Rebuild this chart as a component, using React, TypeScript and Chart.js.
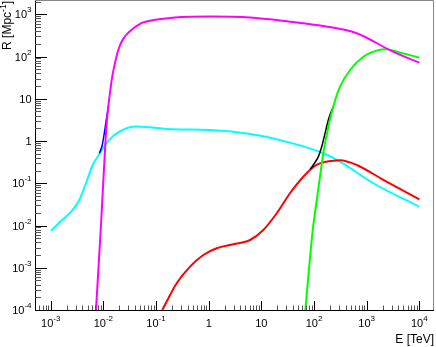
import React, { useEffect, useRef } from 'react';
import Chart from 'chart.js/auto';

// ---- data (E in TeV, R in Mpc^-1) ----
const magentaE = [7.24e-3, 8.9e-3, 1.074e-2, 1.156e-2, 1.44e-2, 1.63e-2, 1.92e-2, 2.31e-2, 2.94e-2, 5.35e-2, 7.7e-2, 0.229, 1.06, 6.1, 35, 150, 647, 3162, 1e4];
const magentaR = [1e-4, 7.8e-3, 0.614, 2.67, 27.9, 63, 143, 247, 361, 622, 706, 841, 888, 841, 668, 528, 356, 130, 71.6];

const cyanE = [1.01e-3, 1.5e-3, 2.62e-3, 3.49e-3, 4.68e-3, 6.27e-3, 7.81e-3, 1.21e-2, 2.01e-2, 4.17e-2, 7.45e-2, 0.155, 1.06, 6.1, 35, 150, 312, 1337, 1e4];
const cyanR = [7.5e-3, 0.0121, 0.0233, 0.0402, 0.1, 0.271, 0.426, 0.964, 1.66, 2.19, 2.12, 1.93, 1.82, 1.47, 0.914, 0.513, 0.324, 0.1, 0.0279];

const redE = [0.1315, 0.247, 0.442, 0.79, 1.42, 2.94, 6.1, 10.9, 19.6, 35, 62.6, 112, 232, 312, 647, 2070, 1e4];
const redR = [1e-4, 4.28e-4, 1.06e-3, 2.0e-3, 2.89e-3, 3.59e-3, 4.54e-3, 7.83e-3, 0.0195, 0.058, 0.143, 0.271, 0.343, 0.35, 0.271, 0.12, 0.0418];

const greenE = [68.4, 94.5, 100, 130, 150, 187, 232, 312, 483, 864, 1552, 2404, 3724, 1e4];
const greenR = [1e-4, 7.8e-3, 0.0135, 0.143, 0.513, 2.18, 6.5, 19.3, 48, 99, 138, 149, 130, 94];

const blackE = [84.4, 97, 121, 140, 162, 187, 232];
const blackR = [0.218, 0.271, 0.426, 0.734, 1.52, 3.15, 6.5];

const blueE = [8.37e-3, 9.42e-3, 1.03e-2, 1.12e-2, 1.25e-2];
const blueR = [0.513, 0.763, 1.39, 2.82, 6.76];

const xTickExponents = [-3, -2, -1, 0, 1, 2, 3, 4];
const yTickExponents = [-4, -3, -2, -1, 0, 1, 2, 3];
const xMin = 5.03e-4;
const xMax = 1.9e4;
const yMin = 1e-4;
const yMax = 2060;
const xTitle = 'E [TeV]';
const yTitleMain = 'R [Mpc';
const yTitleSup = '-1';
const yTitleEnd = ']';

const FONT = '"Liberation Sans", Arial, Helvetica, sans-serif';

function pts(xs: number[], ys: number[]) {
  return xs.map((x, i) => ({ x, y: ys[i] }));
}

function powParts(e: number): [string, string] {
  if (e === 0) return ['1', ''];
  if (e === 1) return ['10', ''];
  return ['10', String(e)];
}

function drawPow(ctx: CanvasRenderingContext2D, e: number, x: number, y: number, align: 'center' | 'right') {
  const [base, sup] = powParts(e);
  const baseFont = `11px ${FONT}`;
  const supFont = `8px ${FONT}`;
  ctx.font = baseFont;
  const bw = ctx.measureText(base).width;
  ctx.font = supFont;
  const sw = sup ? ctx.measureText(sup).width : 0;
  const total = bw + sw;
  const left = align === 'center' ? x - total / 2 : x - total;
  ctx.textAlign = 'left';
  ctx.textBaseline = 'middle';
  ctx.fillStyle = '#000';
  ctx.font = baseFont;
  ctx.fillText(base, left, y);
  if (sup) {
    ctx.font = supFont;
    ctx.fillText(sup, left + bw, y - 5);
  }
}

const rootAxes = {
  id: 'rootAxes',
  afterDatasetsDraw(chart: any) {
    const { ctx, chartArea: a, scales } = chart;
    const xs = scales.x;
    const ys = scales.y;
    ctx.save();
    ctx.lineWidth = 1;
    // frame top/right
    ctx.strokeStyle = '#888';
    ctx.beginPath();
    ctx.moveTo(a.left, a.top - 0.5);
    ctx.lineTo(a.right - 0.5, a.top - 0.5);
    ctx.lineTo(a.right - 0.5, a.bottom);
    ctx.stroke();
    // axes
    ctx.strokeStyle = '#000';
    ctx.beginPath();
    ctx.moveTo(a.left + 0.5, a.top);
    ctx.lineTo(a.left + 0.5, a.bottom + 0.5);
    ctx.lineTo(a.right, a.bottom + 0.5);
    ctx.stroke();
    // x ticks
    for (let e = -4; e <= 4; e++) {
      for (let m = 1; m <= 9; m++) {
        const v = m * Math.pow(10, e);
        if (v < xMin || v > xMax) continue;
        const px = Math.round(xs.getPixelForValue(v)) + 0.5;
        const len = m === 1 ? 9 : 4.5;
        ctx.strokeStyle = m === 1 ? '#000' : '#555';
        ctx.beginPath();
        ctx.moveTo(px, a.bottom);
        ctx.lineTo(px, a.bottom - len);
        ctx.stroke();
      }
    }
    // y ticks
    for (let e = -4; e <= 3; e++) {
      for (let m = 1; m <= 9; m++) {
        const v = m * Math.pow(10, e);
        if (v < yMin || v > yMax) continue;
        const py = Math.round(ys.getPixelForValue(v)) + 0.5;
        const len = m === 1 ? 12 : 6;
        ctx.strokeStyle = m === 1 ? '#000' : '#555';
        ctx.beginPath();
        ctx.moveTo(a.left, py);
        ctx.lineTo(a.left + len, py);
        ctx.stroke();
      }
    }
    // x tick labels
    xTickExponents.forEach((e) => {
      const px = xs.getPixelForValue(Math.pow(10, e));
      drawPow(ctx, e, px, a.bottom + 14, 'center');
    });
    // y tick labels
    yTickExponents.forEach((e) => {
      const py = ys.getPixelForValue(Math.pow(10, e));
      drawPow(ctx, e, a.left - 3.5, py + 1, 'right');
    });
    // x title
    ctx.font = `12px ${FONT}`;
    ctx.textAlign = 'right';
    ctx.textBaseline = 'middle';
    ctx.fillStyle = '#000';
    ctx.fillText(xTitle, a.right, 340);
    // y title (rotated)
    ctx.translate(8, a.top);
    ctx.rotate(-Math.PI / 2);
    const mainFont = `12px ${FONT}`;
    const supFont = `8.5px ${FONT}`;
    ctx.font = mainFont;
    const w1 = ctx.measureText(yTitleMain).width;
    const w3 = ctx.measureText(yTitleEnd).width;
    ctx.font = supFont;
    const w2 = ctx.measureText(yTitleSup).width;
    const x0 = -(w1 + w2 + w3);
    ctx.textAlign = 'left';
    ctx.textBaseline = 'middle';
    ctx.font = mainFont;
    ctx.fillText(yTitleMain, x0, 0);
    ctx.font = supFont;
    ctx.fillText(yTitleSup, x0 + w1, -4.5);
    ctx.font = mainFont;
    ctx.fillText(yTitleEnd, x0 + w1 + w2, 0);
    ctx.restore();
  },
};

function ds(label: string, xs: number[], ys: number[], color: string, width = 2) {
  return {
    label,
    data: pts(xs, ys),
    borderColor: color,
    backgroundColor: color,
    borderWidth: width,
    pointRadius: 0,
    fill: false,
    cubicInterpolationMode: 'monotone' as const,
  };
}

export default function App() {
  const ref = useRef<HTMLCanvasElement>(null);
  useEffect(() => {
    if (!ref.current) return;
    const chart = new Chart(ref.current, {
      type: 'line',
      data: {
        // first dataset is drawn on top
        datasets: [
          ds('magenta', magentaE, magentaR, '#ff00ff'),
          ds('green', greenE, greenR, '#00ff00'),
          ds('blue', blueE, blueR, '#0000ff', 1.5),
          ds('black', blackE, blackR, '#000000', 1.5),
          ds('red', redE, redR, '#ff0000'),
          ds('cyan', cyanE, cyanR, '#00ffff'),
        ] as any,
      },
      options: {
        responsive: false,
        animation: false,
        events: [],
        layout: { padding: { left: 35, top: 1, right: 2, bottom: 37 } },
        plugins: { legend: { display: false }, tooltip: { enabled: false } },
        scales: {
          x: { type: 'logarithmic', min: xMin, max: xMax, display: false },
          y: { type: 'logarithmic', min: yMin, max: yMax, display: false },
        },
      },
      plugins: [rootAxes],
    });
    return () => chart.destroy();
  }, []);
  return (
    <div style={{ position: 'absolute', left: 0, top: 0, width: 436, height: 347, background: '#fff' }}>
      <canvas ref={ref} width={436} height={347} style={{ display: 'block' }} />
    </div>
  );
}
